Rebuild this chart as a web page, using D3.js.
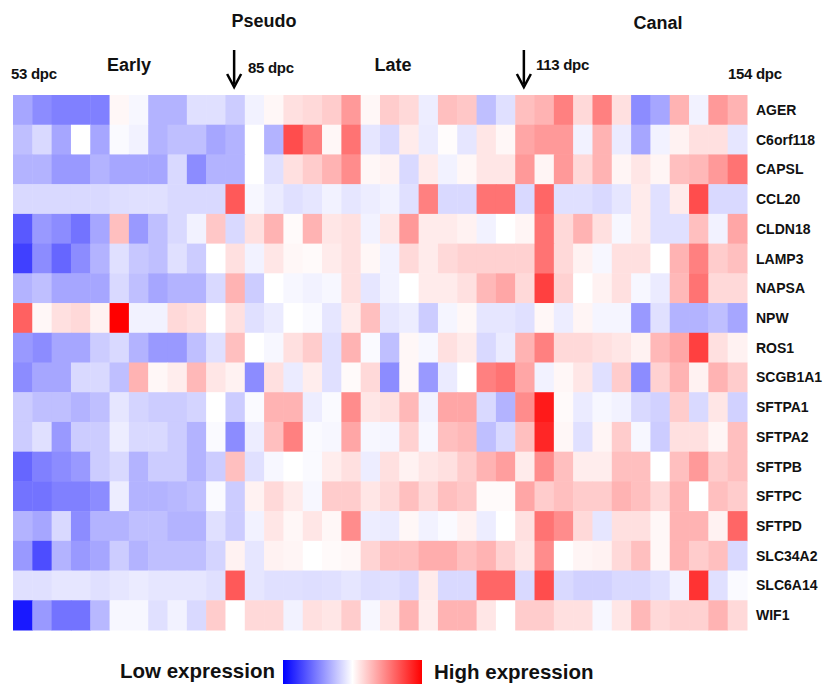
<!DOCTYPE html>
<html>
<head>
<meta charset="utf-8">
<script src="https://cdn.jsdelivr.net/npm/d3@7"></script>
<style>
  body { margin: 0; background: #fff; }
  text { font-family: "Liberation Sans", Arial, sans-serif; font-weight: bold; fill: #111; }
</style>
</head>
<body>
<script>
// expression heatmap, 18 genes x 38 samples (53 dpc -> 154 dpc)

var genes = ["AGER", "C6orf118", "CAPSL", "CCL20", "CLDN18", "LAMP3", "NAPSA", "NPW", "ROS1",
  "SCGB1A1", "SFTPA1", "SFTPA2", "SFTPB", "SFTPC", "SFTPD", "SLC34A2", "SLC6A14", "WIF1"];

var AGER     = [-0.35,-0.45,-0.5,-0.5,-0.5,0.03,-0.03,-0.3,-0.3,-0.12,-0.12,-0.2,-0.05,0.03,0.12,0.15,0.2,0.4,0.03,0.2,0.15,-0.07,0.25,0.22,-0.25,-0.12,0.25,0.3,0.5,0.15,0.5,0.12,-0.45,-0.35,0.3,-0.05,0.4,0.3];
var C6orf118 = [-0.25,-0.15,-0.35,0,-0.35,-0.02,-0.05,-0.3,-0.25,-0.25,-0.35,-0.3,0,-0.3,0.7,0.5,0.03,0.55,-0.1,-0.15,0.08,-0.08,0.01,-0.1,0.1,0.03,0.35,0.4,0.4,-0.05,0.3,-0.08,-0.35,-0.05,0.05,0.12,0.12,-0.1];
var CAPSL    = [-0.3,-0.3,-0.4,-0.4,-0.3,-0.35,-0.35,-0.35,-0.15,-0.45,-0.3,-0.3,0,-0.12,0.12,0.2,0.3,0.45,0.03,0.05,-0.15,0.08,-0.05,0.03,0.1,0.1,0.4,0.04,0.4,0.15,0.3,0.04,0.1,0.04,0.25,0.28,0.4,0.55];
var CCL20    = [-0.15,-0.15,-0.15,-0.15,-0.15,-0.13,-0.12,-0.12,-0.15,-0.15,-0.15,0.65,-0.03,-0.08,-0.12,-0.1,-0.05,-0.1,-0.07,-0.05,-0.12,0.5,-0.15,-0.15,0.55,0.55,-0.15,0.6,-0.12,-0.12,-0.15,-0.1,0.08,-0.12,0.08,0.7,-0.15,-0.15];
var CLDN18   = [-0.65,-0.4,-0.45,-0.55,-0.35,0.25,-0.4,-0.25,-0.15,-0.05,0.22,-0.15,0.12,0.3,0.02,0.3,0.1,0.12,-0.05,0.1,0.4,0.08,0.08,0.05,-0.05,0,0.04,0.55,0.15,0.3,0.12,-0.03,0.08,-0.12,-0.12,0.25,-0.05,0.35];
var LAMP3    = [-0.75,-0.45,-0.6,-0.45,-0.3,-0.12,-0.22,-0.25,-0.12,-0.2,0,0.12,-0.05,0.1,0.03,0.02,0.08,0.12,0.03,-0.05,0.15,0.08,0.15,0.18,0.18,0.18,0.18,0.55,0.15,0.05,-0.03,0.12,0.12,0,0.3,0.5,0.2,0.25];
var NAPSA    = [-0.3,-0.25,-0.35,-0.35,-0.35,-0.15,-0.25,-0.35,-0.3,-0.3,-0.15,0.3,-0.2,0,-0.03,-0.05,-0.03,0.12,-0.1,-0.05,0,0.08,0.08,0.12,0.28,0.35,0.15,0.75,0.18,0,0.05,0.12,-0.03,-0.08,0.28,0.55,0.15,0.15];
var NPW      = [0.62,0.03,0.12,0.15,0.05,1.0,-0.05,-0.05,0.15,0.12,0,0.12,-0.12,-0.08,0,-0.02,-0.1,0.08,0.25,-0.1,-0.07,-0.2,-0.04,0.03,-0.1,-0.1,-0.12,0.03,-0.07,0.04,-0.04,-0.04,-0.4,-0.12,-0.3,-0.3,-0.25,-0.35];
var ROS1     = [-0.4,-0.45,-0.35,-0.35,-0.2,-0.15,-0.3,-0.4,-0.4,-0.25,-0.12,0.25,0,-0.03,0.12,0.2,-0.12,0.3,-0.02,-0.25,0.03,-0.03,0.12,0.08,-0.15,-0.08,0.3,0.5,0.15,0.15,0.12,0.1,0.05,0.28,0.35,0.75,0.12,0.05];
var SCGB1A1  = [-0.45,-0.35,-0.35,-0.15,-0.15,-0.25,0.3,0.03,0.07,0.28,0.1,0.05,-0.45,0.12,-0.08,0.07,-0.12,0.02,0.15,-0.45,0.03,-0.4,-0.08,0,0.5,0.55,0.35,-0.05,0.03,0.1,-0.12,0.2,-0.45,0.18,0.3,0.05,0.3,0.2];
var SFTPA1   = [-0.2,-0.25,-0.25,-0.3,-0.25,-0.1,-0.17,-0.2,-0.2,-0.17,0,-0.2,-0.02,0.3,0.3,-0.07,-0.02,0.45,0.1,0.12,0.28,-0.05,0.35,0.35,-0.15,-0.3,0.45,0.9,0.02,-0.08,-0.03,-0.05,-0.15,-0.18,0.2,-0.15,0.1,-0.18];
var SFTPA2   = [-0.2,-0.12,-0.4,-0.2,-0.2,-0.07,-0.15,-0.15,-0.2,-0.3,-0.02,-0.45,-0.07,0.25,0.5,-0.02,-0.03,0.35,-0.03,-0.04,0.18,-0.03,0.25,0.28,-0.25,-0.15,0.25,0.85,0.03,-0.12,0.04,0.2,-0.03,-0.2,0.12,0.12,0.04,0.25];
var SFTPB    = [-0.6,-0.5,-0.45,-0.4,-0.2,-0.15,-0.3,-0.2,-0.2,-0.3,-0.2,0.25,-0.12,-0.03,0,-0.02,0.07,0.12,-0.07,0.12,0.05,0.1,0.12,0.2,0.3,0.38,0.08,0.45,0.25,0.07,0.07,0.25,0.25,0,0.25,0.4,0.2,0.25];
var SFTPC    = [-0.55,-0.55,-0.5,-0.5,-0.45,-0.07,-0.3,-0.3,-0.28,-0.25,-0.02,-0.2,0.05,0.15,0.08,-0.03,0.2,0.2,0.1,0.15,0.25,0.15,0.25,0.22,0.02,0.02,0.35,0.2,0.25,0.2,0.2,0.3,0.25,0.15,0.3,0,0.25,0.2];
var SFTPD    = [-0.3,-0.35,-0.15,-0.45,-0.3,-0.3,-0.25,-0.25,-0.3,-0.3,-0.12,-0.2,-0.05,0.1,0.03,0.1,0.03,0.45,-0.07,-0.08,0.03,-0.05,-0.02,0.05,-0.07,0,0.12,0.55,0.45,0.15,-0.1,0.12,0.12,0.03,0.3,0.3,0.05,0.6];
var SLC34A2  = [-0.4,-0.7,-0.3,-0.4,-0.35,-0.2,-0.3,-0.25,-0.25,-0.25,-0.17,0.05,-0.1,0.05,0.04,0,0.02,0.03,0.17,0.25,0.25,0.32,0.32,0.25,0.3,0.18,0.1,0.45,0,0.04,0.05,0.15,0.25,0.03,0.3,0.2,0.25,-0.15];
var SLC6A14  = [-0.12,-0.12,-0.1,-0.1,-0.12,-0.1,-0.08,-0.1,-0.1,-0.1,-0.12,0.65,-0.1,-0.12,-0.12,-0.13,-0.12,-0.1,-0.13,-0.12,-0.15,0.08,-0.15,-0.15,0.6,0.6,-0.15,0.7,-0.15,-0.18,-0.18,-0.15,-0.15,-0.12,-0.05,0.8,-0.12,-0.02];
var WIF1     = [-0.9,-0.4,-0.55,-0.55,-0.28,-0.03,-0.03,-0.12,-0.05,-0.15,0.2,0,0.15,0.15,-0.05,0.12,0.1,0.2,-0.03,0.1,0.3,0.07,0.3,0.3,0.1,0,0.2,0.2,0.12,0.12,-0.03,0.1,0.28,0.15,0.18,0.18,0.3,0.15];

var rows = [AGER, C6orf118, CAPSL, CCL20, CLDN18, LAMP3, NAPSA, NPW, ROS1,
  SCGB1A1, SFTPA1, SFTPA2, SFTPB, SFTPC, SFTPD, SLC34A2, SLC6A14, WIF1];

var nSamples = 38;
var samples = d3.range(nSamples);
var arrowSamples = [11, 26];   // 85 dpc and 113 dpc

var width = 829;
var height = 684;
var margin = {top: 95, right: 82, bottom: 54, left: 13};

var svg = d3.select("body")
  .append("svg")
  .attr("width", width)
  .attr("height", height);

var x = d3.scaleBand()
  .domain(samples)
  .range([margin.left, width - margin.right]);

var y = d3.scaleBand()
  .domain(genes)
  .range([margin.top, height - margin.bottom]);

var color = d3.scaleLinear()
  .domain([-1, 0, 1])
  .range(["#0000ff", "#ffffff", "#ff0000"])
  .clamp(true);

var cells = [];
rows.forEach(function(vals, i) {
  vals.forEach(function(v, j) {
    cells.push({gene: genes[i], sample: j, value: v});
  });
});

svg.append("g")
  .selectAll("rect")
  .data(cells)
  .enter()
  .append("rect")
  .attr("x", function(d) { return x(d.sample); })
  .attr("y", function(d) { return y(d.gene); })
  .attr("width", x.bandwidth() + 0.5)
  .attr("height", y.bandwidth() + 0.5)
  .attr("fill", function(d) { return color(d.value); });

// gene names on the right
svg.append("g")
  .selectAll("text")
  .data(genes)
  .enter()
  .append("text")
  .attr("x", width - margin.right + 9)
  .attr("y", function(d) { return y(d) + y.bandwidth() / 2; })
  .attr("dy", "0.36em")
  .style("font-size", "14px")
  .text(function(d) { return d; });

// stage labels
var stageLabels = [
  {text: "Pseudo", x: 264, y: 27},
  {text: "Canal", x: 658, y: 29},
  {text: "Early", x: 129, y: 71},
  {text: "Late", x: 393, y: 71}
];
svg.append("g")
  .selectAll("text")
  .data(stageLabels)
  .enter()
  .append("text")
  .attr("x", function(d) { return d.x; })
  .attr("y", function(d) { return d.y; })
  .attr("text-anchor", "middle")
  .style("font-size", "18px")
  .text(function(d) { return d.text; });

// dpc labels
var dpcLabels = [
  {text: "53 dpc", x: 11, y: 79},
  {text: "85 dpc", x: 248, y: 73},
  {text: "113 dpc", x: 536, y: 70},
  {text: "154 dpc", x: 728, y: 79}
];
svg.append("g")
  .selectAll("text")
  .data(dpcLabels)
  .enter()
  .append("text")
  .attr("x", function(d) { return d.x; })
  .attr("y", function(d) { return d.y; })
  .style("font-size", "15px")
  .style("letter-spacing", "-0.3px")
  .text(function(d) { return d.text; });

// arrows
var arrows = svg.append("g")
  .selectAll("g")
  .data(arrowSamples)
  .enter()
  .append("g")
  .attr("transform", function(d) { return "translate(" + (x(d) + x.bandwidth() / 2 - 1) + ",0)"; });

arrows.append("line")
  .attr("x1", 0).attr("x2", 0)
  .attr("y1", 50).attr("y2", 84)
  .attr("stroke", "#000")
  .attr("stroke-width", 2.5);

arrows.append("path")
  .attr("d", "M-7,74 L0,87 L7,74")
  .attr("fill", "none")
  .attr("stroke", "#000")
  .attr("stroke-width", 2.5);

// legend
var legendX = d3.scaleLinear().domain([-1, 1]).range([283, 422]);

var grad = svg.append("defs")
  .append("linearGradient")
  .attr("id", "legendGrad");
grad.selectAll("stop")
  .data([-1, -0.5, 0, 0.5, 1])
  .enter()
  .append("stop")
  .attr("offset", function(d) { return ((d + 1) / 2 * 100) + "%"; })
  .attr("stop-color", function(d) { return color(d); });

svg.append("rect")
  .attr("x", legendX(-1))
  .attr("y", 660)
  .attr("width", legendX(1) - legendX(-1))
  .attr("height", 26)
  .attr("fill", "url(#legendGrad)");

svg.append("text")
  .attr("x", 120)
  .attr("y", 678)
  .style("font-size", "20.5px")
  .text("Low expression");

svg.append("text")
  .attr("x", 434)
  .attr("y", 679)
  .style("font-size", "20.5px")
  .text("High expression");
</script>
</body>
</html>
